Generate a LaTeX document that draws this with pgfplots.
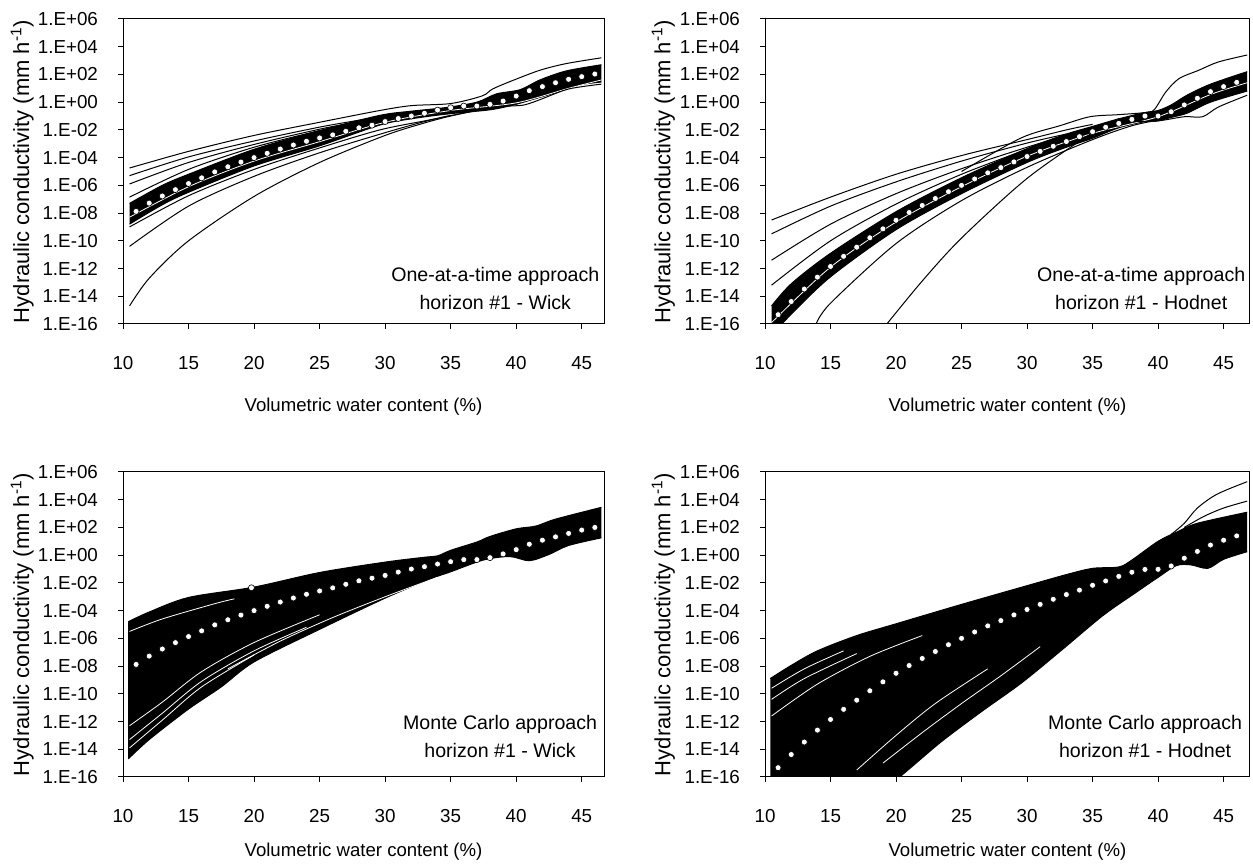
\documentclass[border=0pt]{standalone}
\usepackage{fontspec}
\setmainfont{Liberation Sans}
\usepackage{pgfplots}
\pgfplotsset{compat=1.18}
\usepgfplotslibrary{fillbetween}

\pgfplotsset{
  panel/.style={
    at={#1}, anchor=south west,
    width=240.5pt, height=152.5pt, scale only axis,
    xmin=10, xmax=46.7, ymin=-16, ymax=6,
    xtick={10,15,...,45}, xticklabels={10,15,20,25,30,35,40,45},
    ytick={-16,-14,...,6},
    yticklabels={1.E-16,1.E-14,1.E-12,1.E-10,1.E-08,1.E-06,1.E-04,1.E-02,1.E+00,1.E+02,1.E+04,1.E+06},
    tick align=outside, xtick pos=bottom, ytick pos=left,
    major tick length=2.5pt,
    tick style={black, line width=0.5pt},
    axis line style={black, line width=0.5pt},
    ticklabel style={font=\fontsize{9.4}{11}\selectfont},
    xticklabel style={text height=6.8pt, text depth=0pt, yshift=-10pt},
    yticklabel style={xshift=-6.5pt},
    xlabel={Volumetric water content (\%)},
    ylabel={Hydraulic conductivity (mm h\textsuperscript{-1})},
    xlabel style={font=\fontsize{9.3}{12}\selectfont, anchor=center},
    ylabel style={font=\fontsize{11}{12}\selectfont, at={(axis description cs:-0.2095,0.5)}, anchor=center},
  },
  toprow/.style={xlabel style={at={(axis description cs:0.5,-0.272)}}},
  botrow/.style={xlabel style={at={(axis description cs:0.5,-0.245)}}},
  rightcol/.style={xmax=47, width=242.4pt},
  curve/.style={black, line width=0.5pt, smooth, no markers},
  streak/.style={white, line width=0.4pt, smooth, no markers},
  dots/.style={only marks, mark=*, mark size=1.5pt, mark options={fill=white, draw=black, line width=0.3pt}},
}
\tikzset{note/.style={anchor=base, font=\fontsize{9.8}{12}\selectfont}}

\begin{document}
\begin{tikzpicture}

% ---------- top left: one-at-a-time, Wick
\begin{axis}[panel={(61.5pt,270.5pt)}, toprow]
\addplot[curve, name path=up] coordinates {(10.5,-7.3) (13,-6.0) (15,-5.2) (20,-3.4) (25,-2.05) (29.6,-0.95) (32,-0.65) (34.7,-0.38) (37,0.0) (38.5,0.6) (40.3,0.9) (41.8,1.6) (43.8,2.25) (46.5,2.7)};
\addplot[curve, name path=lo] coordinates {(10.5,-8.8) (13,-7.4) (15,-6.5) (20,-4.6) (25,-3.15) (29.6,-1.65) (32,-1.2) (34.7,-0.86) (38,-0.55) (39.8,-0.2) (41.1,0.15) (42.9,0.65) (44.9,1.25) (46.5,1.45)};
\addplot[black] fill between[of=up and lo];
\addplot[streak] coordinates {(10.5,-8.3) (15,-6.1) (20,-4.25) (25,-2.85) (30,-1.45) (35,-0.6) (40,-0.05) (44,1.0) (46.5,1.6)};
\addplot[curve] coordinates {(10.5,-4.75) (15,-3.55) (20,-2.4) (25,-1.45) (29.6,-0.6) (32,-0.25) (35,-0.1) (37.4,0.45) (38.2,0.95) (39.7,1.55) (41.8,2.3) (43.8,2.78) (46.5,3.2)};
\addplot[curve] coordinates {(10.5,-5.3) (15,-3.95) (20,-2.8) (25,-1.8) (28,-1.3) (30,-0.95)};
\addplot[curve] coordinates {(10.5,-5.9) (15,-4.35) (20,-3.05) (25,-1.95) (28,-1.4) (30,-1.0)};
\addplot[curve] coordinates {(10.5,-6.85) (15,-4.85) (20,-3.25) (25,-2.05)};
\addplot[curve] coordinates {(10.5,-9.0) (15,-6.75) (20,-4.85) (25,-3.3) (29.6,-2.0) (33.4,-1.28) (37.2,-0.55) (38.5,-0.35) (39.5,-0.28) (40.5,-0.22) (41.3,0.0) (42,0.25) (44,0.95) (46.5,1.3)};
\addplot[curve] coordinates {(10.5,-10.4) (15,-7.5) (20,-5.35) (25,-3.65) (30,-2.2) (33,-1.4) (35,-0.95)};
\addplot[curve] coordinates {(10.5,-14.7) (12,-12.7) (15,-10.0) (20,-6.8) (25,-4.35) (30,-2.4) (33,-1.5) (35,-1.0) (37,-0.6)};
\addplot[dots] coordinates {(11,-7.88) (12,-7.28) (13,-6.77) (14,-6.31) (15,-5.87) (16,-5.46) (17,-5.03) (18,-4.66) (19,-4.32) (20,-4.0) (21,-3.69) (22,-3.38) (23,-3.09) (24,-2.82) (25,-2.58) (26,-2.36) (27,-2.1) (28,-1.85) (29,-1.66) (30,-1.4) (31,-1.18) (32,-1.0) (33,-0.8) (34,-0.57) (35,-0.4) (36,-0.28) (37,-0.28) (38,-0.16) (39,0.08) (40,0.44) (41,0.83) (42,1.12) (43,1.4) (44,1.65) (45,1.84) (46,2.03)};
\node[note] at (rel axis cs:0.774,0.138) {One-at-a-time approach};
\node[note] at (rel axis cs:0.774,0.048) {horizon \#1 - Wick};
\end{axis}

% ---------- top right: one-at-a-time, Hodnet
\begin{axis}[panel={(382.5pt,270.5pt)}, toprow, rightcol]
\addplot[curve, name path=up] coordinates {(10.5,-14.7) (12,-13.1) (15,-10.9) (20,-7.9) (25,-5.45) (30,-3.35) (33,-2.3) (35,-1.75) (37,-1.2) (39,-0.75) (40,-0.6) (41,-0.2) (42.2,0.5) (44,1.3) (46.8,2.2)};
\addplot[curve, name path=lo] coordinates {(10.5,-16.8) (12,-15.3) (15,-12.6) (20,-9.2) (25,-6.6) (30,-4.35) (33,-3.25) (35,-2.6) (37,-1.85) (39,-1.4) (40,-1.35) (41,-1.1) (42.2,-0.8) (44,0.0) (46.8,0.8)};
\addplot[black] fill between[of=up and lo];
\addplot[streak] coordinates {(10.5,-15.9) (15,-11.9) (20,-8.65) (25,-6.1) (30,-3.9) (35,-2.25) (40,-1.05) (44,0.55) (46.8,1.4)};
\addplot[curve] coordinates {(10.5,-8.5) (15,-6.85) (20,-5.2) (25,-3.85) (30,-2.7) (33,-2.0) (35,-1.6)};
\addplot[curve] coordinates {(10.5,-9.5) (15,-7.5) (20,-5.75) (25,-4.25) (30,-2.95) (33,-2.3)};
\addplot[curve] coordinates {(10.5,-11.4) (15,-8.8) (20,-6.6) (25,-4.8) (30,-3.25) (33,-2.4)};
\addplot[curve] coordinates {(10.5,-13.2) (15,-10.0) (20,-7.35) (25,-5.2) (30,-3.4)};
\addplot[curve] coordinates {(25,-5.0) (29.5,-2.6) (32.5,-1.7) (34.8,-1.05) (37,-0.9) (39,-0.75) (39.7,-0.55) (40.6,0.75) (41.6,1.7) (43.1,2.3) (44.6,2.9) (46.8,3.4)};
\addplot[curve] coordinates {(13.9,-16) (15,-14.5) (20,-10.2) (25,-7.1) (30,-4.7) (35,-2.7) (38,-1.7) (40,-1.3)};
\addplot[curve] coordinates {(19.3,-16) (22,-12.9) (25,-9.8) (30,-5.5) (35,-2.2) (37,-1.2)};
\addplot[curve] coordinates {(38,-1.4) (40,-1.35) (42,-1.05) (43.4,-1.05) (44.6,-0.35) (46.8,0.5)};
\addplot[dots] coordinates {(11,-15.33) (12,-14.38) (13,-13.48) (14,-12.62) (15,-11.85) (16,-11.12) (17,-10.46) (18,-9.78) (19,-9.14) (20,-8.52) (21,-7.96) (22,-7.45) (23,-6.95) (24,-6.46) (25,-6.0) (26,-5.54) (27,-5.1) (28,-4.72) (29,-4.31) (30,-3.92) (31,-3.55) (32,-3.18) (33,-2.84) (34,-2.49) (35,-2.13) (36,-1.81) (37,-1.53) (38,-1.24) (39,-1.0) (40,-1.0) (41,-0.69) (42,-0.2) (43,0.28) (44,0.76) (45,1.12) (46,1.43)};
\node[note] at (rel axis cs:0.776,0.138) {One-at-a-time approach};
\node[note] at (rel axis cs:0.776,0.048) {horizon \#1 - Hodnet};
\end{axis}

% ---------- bottom left: Monte Carlo, Wick
\begin{axis}[panel={(61.5pt,44pt)}, botrow]
\addplot[curve, name path=up] coordinates {(10.4,-4.8) (12,-4.1) (15,-3.05) (20,-2.3) (25,-1.25) (30,-0.5) (33,-0.15) (34,-0.05) (35,0.35) (37,0.95) (38,1.35) (40,1.9) (41.5,2.1) (43,2.6) (46.5,3.45)};
\addplot[curve, name path=lo] coordinates {(10.4,-14.7) (12,-13.3) (15,-11.1) (17.5,-9.5) (20,-7.7) (25,-5.35) (30,-3.1) (33.5,-1.7) (35,-1.2) (37.5,-0.35) (39.5,-0.1) (41,-0.4) (42.5,0.05) (44,0.7) (46.5,1.25)};
\addplot[black] fill between[of=up and lo];
\addplot[streak] coordinates {(10.5,-5.5) (13,-4.6) (17,-3.5) (18.5,-3.15)};
\addplot[streak] coordinates {(10.5,-12.3) (13,-10.6) (16,-8.4) (20,-6.3) (25,-4.3)};
\addplot[streak] coordinates {(10.5,-13.3) (13,-11.4) (16,-9.1) (20,-6.9) (24,-5.2)};
\addplot[streak] coordinates {(10.5,-13.9) (13,-11.9) (16,-9.5) (20,-7.2)};
\addplot[streak] coordinates {(18,-8.2) (22,-6.2) (26,-4.5) (30,-3.0) (34,-1.6)};
\addplot[dots] coordinates {(11,-7.88) (12,-7.28) (13,-6.77) (14,-6.31) (15,-5.87) (16,-5.46) (17,-5.03) (18,-4.66) (19,-4.32) (20,-4.0) (21,-3.69) (22,-3.38) (23,-3.09) (24,-2.82) (25,-2.58) (26,-2.36) (27,-2.1) (28,-1.85) (29,-1.66) (30,-1.46) (31,-1.22) (32,-1.0) (33,-0.83) (34,-0.64) (35,-0.47) (36,-0.32) (37,-0.32) (38,-0.18) (39,0.09) (40,0.4) (41,0.79) (42,1.08) (43,1.32) (44,1.57) (45,1.81) (46,2.0)};
\addplot[dots] coordinates {(19.8,-2.35)};
\node[note] at (rel axis cs:0.784,0.155) {Monte Carlo approach};
\node[note] at (rel axis cs:0.784,0.065) {horizon \#1 - Wick};
\end{axis}

% ---------- bottom right: Monte Carlo, Hodnet
\begin{axis}[panel={(382.5pt,44pt)}, botrow, rightcol]
\addplot[curve, name path=up] coordinates {(10.4,-8.9) (12,-7.95) (14,-6.9) (17,-5.8) (20,-4.95) (25,-3.55) (30,-2.2) (33,-1.4) (35,-0.95) (37,-0.85) (38,-0.35) (40,1.0) (41.5,1.7) (43,2.3) (46.8,3.1)};
\addplot[curve, name path=lo] coordinates {(10.4,-17) (18.4,-17) (20,-16.2) (23.4,-13.5) (26.5,-11.3) (29.6,-9.2) (32.7,-6.8) (35.8,-4.35) (38.3,-2.7) (40,-1.6) (41.4,-0.75) (42.5,-0.7) (43.8,-0.95) (45,-0.3) (46.8,0.25)};
\addplot[black] fill between[of=up and lo];
\addplot[curve] coordinates {(41,1.5) (42,2.3) (43,3.4) (44.5,4.4) (46.8,5.3)};
\addplot[curve] coordinates {(42,2.0) (43.5,2.8) (45,3.4) (46.8,3.9)};
\addplot[streak] coordinates {(10.5,-9.6) (13,-8.2) (16,-6.9)};
\addplot[streak] coordinates {(10.5,-10.4) (13,-8.9) (17,-7.1)};
\addplot[streak] coordinates {(10.5,-11.6) (14,-9.3) (18,-7.3) (22,-5.8)};
\addplot[streak] coordinates {(19,-15) (22,-12.8) (25,-10.7) (28,-8.7) (31,-6.6)};
\addplot[streak] coordinates {(17,-15.5) (20,-13.0) (23,-10.7) (27,-8.2)};
\addplot[dots] coordinates {(11,-15.33) (12,-14.38) (13,-13.48) (14,-12.62) (15,-11.85) (16,-11.12) (17,-10.46) (18,-9.78) (19,-9.14) (20,-8.52) (21,-7.96) (22,-7.45) (23,-6.95) (24,-6.46) (25,-6.0) (26,-5.54) (27,-5.1) (28,-4.72) (29,-4.31) (30,-3.92) (31,-3.55) (32,-3.18) (33,-2.84) (34,-2.52) (35,-2.17) (36,-1.86) (37,-1.53) (38,-1.23) (39,-1.03) (40,-1.02) (41,-0.78) (42,-0.22) (43,0.27) (44,0.73) (45,1.08) (46,1.39)};
\node[note] at (rel axis cs:0.784,0.155) {Monte Carlo approach};
\node[note] at (rel axis cs:0.784,0.065) {horizon \#1 - Hodnet};
\end{axis}

\pgfresetboundingbox
\path[use as bounding box] (0pt,0pt) rectangle (626.5pt,432.5pt);
\end{tikzpicture}
\end{document}
